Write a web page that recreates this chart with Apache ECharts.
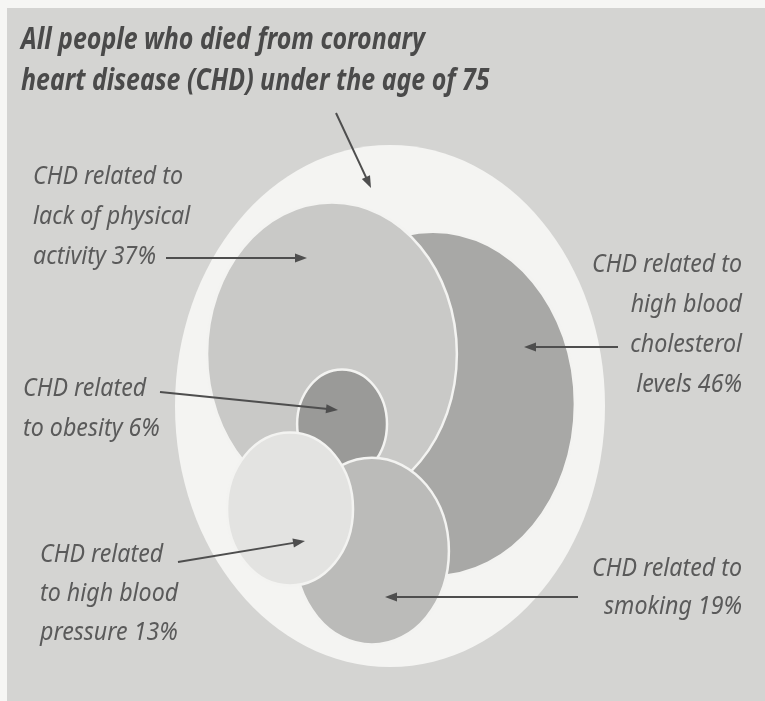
<!DOCTYPE html>
<html>
<head>
<meta charset="utf-8">
<script src="https://cdn.jsdelivr.net/npm/echarts@6/dist/echarts.min.js"></script>
<style>
html,body{margin:0;padding:0;background:#d4d4d2;overflow:hidden;}
#c{width:765px;height:701px;}
</style>
</head>
<body>
<div id="c"></div>
<script>
// ---------------- DATA ----------------
const titleLines = ['All people who died from coronary', 'heart disease (CHD) under the age of 75'];
const categories = ['All CHD deaths under 75', 'High blood cholesterol', 'Lack of physical activity', 'Obesity', 'Smoking', 'High blood pressure'];
const percentages = [100, 46, 37, 6, 19, 13];
// Euler-diagram circle centres and radii in diagram units (outer circle = radius 1)
const centerX = [0, 0.200, -0.270, -0.223, -0.084, -0.465];
const centerY = [0, 0.008, 0.199, -0.069, -0.556, -0.395];
const radius  = [1, 0.660, 0.581, 0.209, 0.358, 0.293];
// label text lines ({v} = percentage)
const labelLines = [
  null,
  ['CHD related to', 'high blood', 'cholesterol', 'levels {v}%'],
  ['CHD related to', 'lack of physical', 'activity {v}%'],
  ['CHD related', 'to obesity {v}%'],
  ['CHD related to', 'smoking {v}%'],
  ['CHD related', 'to high blood', 'pressure {v}%']
];

// ---------------- STYLE / LAYOUT ----------------
const fills = ['#f4f4f2', '#a8a8a6', '#c9c9c7', '#9a9a98', '#bbbbb9', '#e3e3e1'];
const panelColor = '#d4d4d2';
const textColor = '#5a5a5a';
const titleColor = '#4a4a4a';
const labelLayout = [
  null,
  {x: 742, align: 'right', baselines: [273, 313, 353, 393], arrow: [[618, 347], [524, 347]]},
  {x: 33,  align: 'left',  baselines: [185, 225, 265],      arrow: [[166, 258], [307, 258]]},
  {x: 23,  align: 'left',  baselines: [397, 437],           arrow: [[160, 392], [338, 410]]},
  {x: 742, align: 'right', baselines: [577, 615],           arrow: [[578, 597], [385, 597]]},
  {x: 40,  align: 'left',  baselines: [563, 602, 641],      arrow: [[178, 562], [305, 541]]}
];
const titleLayout = {x: 21, baselines: [50, 91], arrow: [[336, 113], [371, 188]]};

const FONT = '"Noto Sans", "Open Sans", "DejaVu Sans", sans-serif';
const labelSize = 25, titleSize = 30;
const mctx = document.createElement('canvas').getContext('2d');
function measure(t, f) { mctx.font = f; return mctx.measureText(t).width; }
const labelScale = 150 / measure('CHD related to', 'italic 400 ' + labelSize + 'px ' + FONT);
const titleScale = 404 / measure(titleLines[0], 'italic 700 ' + titleSize + 'px ' + FONT);

const chart = echarts.init(document.getElementById('c'), null, {renderer: 'canvas'});

const graphics = [];
// white paper margin at top and left of the scanned panel
graphics.push({type: 'rect', z: -10, silent: true, shape: {x: 0, y: 0, width: 765, height: 8}, style: {fill: '#f6f6f4'}});
graphics.push({type: 'rect', z: -10, silent: true, shape: {x: 0, y: 0, width: 7, height: 701}, style: {fill: '#f6f6f4'}});

function textLine(str, x, baseline, size, weight, color, align, scale) {
  return {
    type: 'text', x: x, y: baseline - size * 0.32, scaleX: scale, z: 10,
    style: {text: str, fill: color, fontSize: size, fontFamily: FONT, fontStyle: 'italic', fontWeight: weight,
            align: align, verticalAlign: 'middle'}
  };
}
function arrow(p0, p1) {
  const dx = p1[0] - p0[0], dy = p1[1] - p0[1];
  const L = Math.sqrt(dx * dx + dy * dy);
  const ux = dx / L, uy = dy / L, nx = -uy, ny = ux;
  const hl = 12, hw = 4.5;
  const bx = p1[0] - ux * hl, by = p1[1] - uy * hl;
  return [
    {type: 'line', z: 10, shape: {x1: p0[0], y1: p0[1], x2: bx + ux * 2, y2: by + uy * 2}, style: {stroke: '#4e4e4e', lineWidth: 2}},
    {type: 'polygon', z: 10, shape: {points: [[p1[0], p1[1]], [bx + nx * hw, by + ny * hw], [bx - nx * hw, by - ny * hw]]}, style: {fill: '#4e4e4e'}}
  ];
}

titleLines.forEach((t, i) => graphics.push(textLine(t, titleLayout.x, titleLayout.baselines[i], titleSize, 700, titleColor, 'left', titleScale)));
graphics.push(...arrow(titleLayout.arrow[0], titleLayout.arrow[1]));

labelLines.forEach((lines, k) => {
  if (!lines) return;
  const lay = labelLayout[k];
  lines.forEach((ln, i) => {
    graphics.push(textLine(ln.replace('{v}', percentages[k]), lay.x, lay.baselines[i], labelSize, 400, textColor, lay.align, labelScale));
  });
  graphics.push(...arrow(lay.arrow[0], lay.arrow[1]));
});

const seriesData = categories.map((c, i) => ({name: c, value: [centerX[i], centerY[i], radius[i], percentages[i]]}));

chart.setOption({
  animation: false,
  backgroundColor: panelColor,
  grid: {left: 175, top: 145, width: 430, height: 522},
  xAxis: {type: 'value', min: -1, max: 1, show: false},
  yAxis: {type: 'value', min: -1, max: 1, show: false},
  graphic: graphics,
  series: [{
    type: 'custom',
    coordinateSystem: 'cartesian2d',
    clip: false,
    data: seriesData,
    renderItem: function (params, api) {
      const i = params.dataIndex;
      const c = api.coord([api.value(0), api.value(1)]);
      const s = api.size([api.value(2), api.value(2)]);
      return {
        type: 'ellipse',
        shape: {cx: c[0], cy: c[1], rx: s[0], ry: s[1]},
        style: {fill: fills[i], stroke: i === 0 ? 'none' : '#f3f3f1', lineWidth: i === 0 ? 0 : 2.5}
      };
    }
  }]
});
</script>
</body>
</html>
